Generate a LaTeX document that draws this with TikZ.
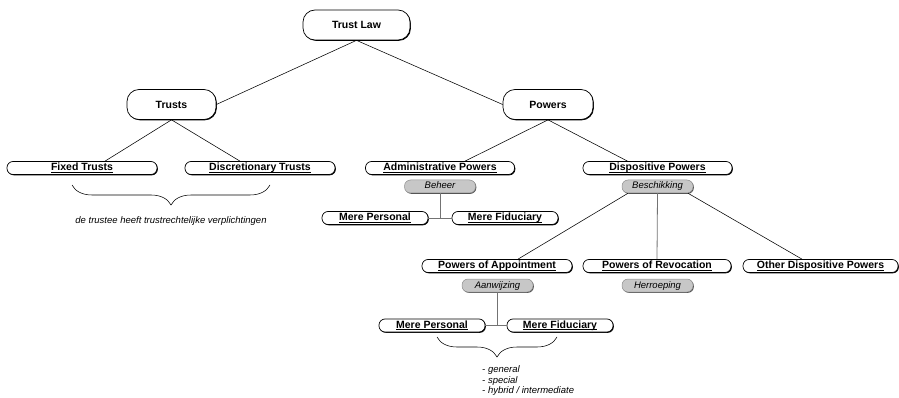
\documentclass[tikz,border=0pt]{standalone}
\usepackage{fontspec}
\setmainfont{Liberation Sans}
\usetikzlibrary{shadows,calc,decorations.pathreplacing}
\newcommand\ulx[1]{\setbox0\hbox{#1}\rlap{\rule[-1.4pt]{\wd0}{0.6pt}}\box0}
\tikzset{
  bigbox/.style={draw=black, line width=0.7pt, fill=white, rounded corners=12pt,
    minimum height=30pt, inner sep=0pt, font=\fontsize{10.5}{12}\selectfont\bfseries,
    drop shadow={shadow xshift=0.8pt, shadow yshift=-0.8pt, fill=black, opacity=1}},
  smallbox/.style={draw=black, line width=0.7pt, fill=white, rounded corners=6pt,
    minimum height=13pt, inner sep=0pt, text height=7.6pt, text depth=2pt,
    font=\fontsize{10.5}{12}\selectfont\bfseries,
    drop shadow={shadow xshift=0.8pt, shadow yshift=-0.8pt, fill=black, opacity=1}},
  notebox/.style={draw=black!45, line width=0.5pt, fill=black!22, rounded corners=6pt,
    minimum width=71pt, minimum height=13pt, inner sep=0pt, text height=7pt, text depth=2pt,
    font=\fontsize{9.5}{11}\selectfont\itshape,
    drop shadow={shadow xshift=0.8pt, shadow yshift=-0.8pt, fill=black!70, opacity=1}},
  link/.style={draw=black, line width=0.55pt},
  glink/.style={draw=black!55, line width=0.8pt},
  brace/.style={draw=black, line width=0.55pt, decorate, decoration={brace, mirror, amplitude=20pt}},
  plain/.style={inner sep=0pt, font=\fontsize{9.5}{10.5}\selectfont\itshape}
}
\begin{document}
\begin{tikzpicture}[x=1pt, y=-1pt]
\useasboundingbox (0,0) rectangle (899,398);
% top level
\node[bigbox, minimum width=107pt] (tl) at (356.5,25) {Trust Law};
\node[bigbox, minimum width=89pt] (trusts) at (171.5,104.5) {Trusts};
\node[bigbox, minimum width=90pt] (powers) at (548,104.5) {Powers};
% second level
\node[smallbox, minimum width=150pt] (fixed) at (82,168) {\ulx{Fixed Trusts}};
\node[smallbox, minimum width=150pt] (disc) at (260,168) {\ulx{Discretionary Trusts}};
\node[smallbox, minimum width=149pt] (admin) at (440,168) {\ulx{Administrative Powers}};
\node[smallbox, minimum width=149pt] (dispo) at (657.5,168) {\ulx{Dispositive Powers}};
\node[notebox] (beheer) at (440,186.5) {Beheer};
\node[notebox] (besch) at (657.5,186.5) {Beschikking};
\node[smallbox, minimum width=106pt] (mp1) at (375,218) {\ulx{Mere Personal}};
\node[smallbox, minimum width=106pt] (mf1) at (505,218) {\ulx{Mere Fiduciary}};
% third level
\node[smallbox, minimum width=150pt] (poa) at (497,266) {\ulx{Powers of Appointment}};
\node[smallbox, minimum width=148pt] (por) at (657,266) {\ulx{Powers of Revocation}};
\node[smallbox, minimum width=155pt] (other) at (820.5,266) {\ulx{Other Dispositive Powers}};
\node[notebox] (aan) at (497.5,285.5) {Aanwijzing};
\node[notebox] (herr) at (657.5,285.5) {Herroeping};
\node[smallbox, minimum width=106pt] (mp2) at (432,325.5) {\ulx{Mere Personal}};
\node[smallbox, minimum width=106pt] (mf2) at (560,325.5) {\ulx{Mere Fiduciary}};
% connectors
\draw[link] (tl.south) -- (trusts.east);
\draw[link] (tl.south) -- (powers.west);
\draw[link] (trusts.south) -- ($(fixed.north)+(23,0)$);
\draw[link] (trusts.south) -- ($(disc.north)+(-20,0)$);
\draw[link] (powers.south) -- ($(admin.north)+(25,0)$);
\draw[link] (powers.south) -- ($(dispo.north)+(-30,0)$);
\draw[link] ($(besch.south)+(-29.5,0)$) -- ($(poa.north)+(21,0)$);
\draw[glink] (besch.south) -- (por.north);
\draw[link] ($(besch.south)+(30.5,0)$) -- ($(other.north)+(-18.5,0)$);
\draw[glink] (mp1.east) -- (mf1.west);
\draw[glink] (beheer.south) -- (beheer.south |- mp1.east);
\draw[glink] (mp2.east) -- (mf2.west);
\draw[glink] (aan.south) -- (aan.south |- mp2.east);
% braces
\coordinate (b1l) at (72,185);
\coordinate (b1r) at (270,185);
\coordinate (b2l) at (437,337);
\coordinate (b2r) at (557,337);
\draw[brace] (b1l) -- (b1r);
\draw[brace] (b2l) -- (b2r);
\node[plain] (t1) at (171,221) {de trustee heeft trustrechtelijke verplichtingen};
\node[plain, anchor=north west, align=left] (t2) at (482,365.5) {- general\\- special\\- hybrid / intermediate};
\end{tikzpicture}
\end{document}
